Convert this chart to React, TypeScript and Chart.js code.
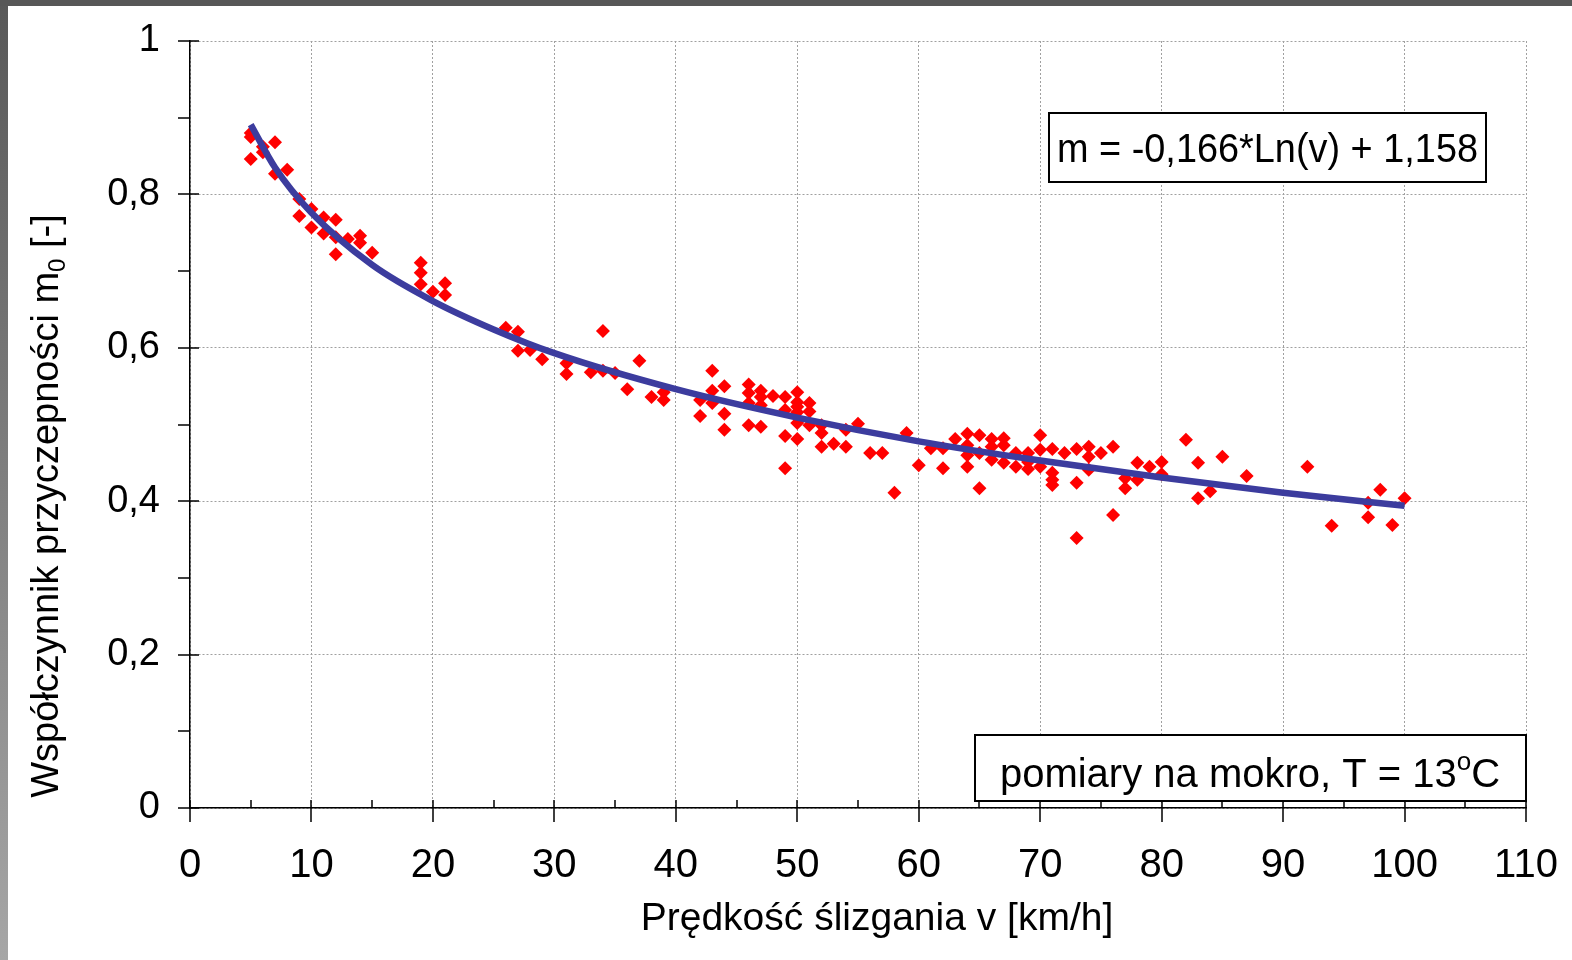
import React, { useEffect, useRef } from 'react';
import { Chart, registerables } from 'chart.js';

Chart.register(...registerables);

// Measured points: sliding speed v [km/h] and adhesion coefficient m0 [-]
const measuredSpeed = [
  5, 5, 5, 6, 6, 7, 7, 8, 9, 9, 10, 10, 11, 11, 12, 12, 12, 13, 14, 14, 15,
  19, 19, 19, 20, 21, 21, 26, 27, 27, 28, 29, 31, 31, 33, 34, 34, 35, 36, 37, 38, 39, 39,
  42, 42, 43, 43, 43, 44, 44, 44, 46, 46, 46, 46, 47, 47, 47, 47, 48,
  49, 49, 49, 49, 50, 50, 50, 50, 50, 50, 51, 51, 51, 52, 52, 52, 53, 54, 54, 55, 56,
  57, 58, 59, 60, 61, 62, 62, 63, 64, 64, 64, 64, 65, 65, 65, 66, 66, 66, 67, 67, 67,
  68, 68, 69, 69, 69, 70, 70, 70, 71, 71, 71, 71, 72, 73, 73, 73, 74, 74, 74, 75, 76, 76,
  77, 77, 78, 78, 79, 80, 80, 82, 83, 83, 84, 85, 87, 92, 94, 97, 97, 98, 99, 100,
];
const measuredFriction = [
  0.880, 0.875, 0.846, 0.862, 0.855, 0.868, 0.827, 0.832, 0.794, 0.772, 0.781, 0.757, 0.770, 0.749,
  0.767, 0.744, 0.722, 0.742, 0.746, 0.737, 0.724,
  0.711, 0.698, 0.683, 0.673, 0.684, 0.669, 0.626, 0.621, 0.596, 0.597, 0.585, 0.580, 0.566, 0.568,
  0.622, 0.570, 0.567, 0.546, 0.583, 0.536, 0.542, 0.532,
  0.532, 0.511, 0.570, 0.544, 0.528, 0.550, 0.514, 0.493, 0.552, 0.541, 0.528, 0.499, 0.544, 0.536,
  0.525, 0.497, 0.537,
  0.536, 0.519, 0.485, 0.443, 0.542, 0.529, 0.523, 0.516, 0.502, 0.481, 0.528, 0.517, 0.499, 0.499,
  0.489, 0.471, 0.475, 0.493, 0.471, 0.501, 0.463,
  0.463, 0.411, 0.489, 0.447, 0.469, 0.469, 0.443, 0.481, 0.488, 0.473, 0.460, 0.445, 0.486, 0.463,
  0.417, 0.481, 0.471, 0.454, 0.482, 0.473, 0.450,
  0.463, 0.445, 0.463, 0.451, 0.442, 0.486, 0.467, 0.445, 0.468, 0.437, 0.428, 0.421, 0.463, 0.468,
  0.424, 0.352, 0.471, 0.458, 0.441, 0.463, 0.471, 0.382,
  0.430, 0.417, 0.450, 0.428, 0.445, 0.451, 0.435, 0.480, 0.450, 0.404, 0.413, 0.458, 0.433, 0.445,
  0.368, 0.398, 0.379, 0.415, 0.369, 0.404,
];

// Logarithmic trend line
const trendSpeed = [5, 7, 10, 15, 20, 25, 30, 40, 50, 60, 70, 80, 90, 100];
const trendFriction = [0.891, 0.835, 0.776, 0.708, 0.661, 0.624, 0.593, 0.546, 0.509, 0.478, 0.453, 0.431, 0.411, 0.394];

const xMajorTicks = [0, 10, 20, 30, 40, 50, 60, 70, 80, 90, 100, 110];
const xMinorTicks = [5, 15, 25, 35, 45, 55, 65, 75, 85, 95, 105];
const yMajorTicks = [0, 0.2, 0.4, 0.6, 0.8, 1];
const yMinorTicks = [0.1, 0.3, 0.5, 0.7, 0.9];

const equationText = 'm = -0,166*Ln(v) + 1,158';
const conditionText = 'pomiary na mokro, T = 13';
const xTitle = 'Prędkość ślizgania v [km/h]';
const yTitleMain = 'Współczynnik przyczepności m';
const yTitleSub = '0';
const yTitleEnd = ' [-]';

const FONT = '"Liberation Sans", Arial, sans-serif';

const decorPlugin = {
  id: 'decor',
  beforeDraw(chart: any) {
    const { ctx, width, height } = chart;
    ctx.save();
    ctx.fillStyle = '#ffffff';
    ctx.fillRect(0, 0, width, height);
    const g = ctx.createLinearGradient(0, 0, 0, height);
    g.addColorStop(0, '#585858');
    g.addColorStop(1, '#a6a6a6');
    ctx.fillStyle = g;
    ctx.fillRect(0, 0, 8, height);
    ctx.fillStyle = '#575757';
    ctx.fillRect(0, 0, width, 6);
    ctx.restore();
  },
  afterDraw(chart: any) {
    const { ctx, chartArea } = chart;
    const xs = chart.scales.x;
    const ys = chart.scales.y;
    const left = chartArea.left;
    const bottom = chartArea.bottom;
    ctx.save();
    ctx.strokeStyle = '#000';
    ctx.lineWidth = 1.5;
    ctx.beginPath();
    xMajorTicks.forEach((v) => {
      const px = Math.round(xs.getPixelForValue(v));
      ctx.moveTo(px, bottom - 8);
      ctx.lineTo(px, bottom + 14);
    });
    xMinorTicks.forEach((v) => {
      const px = Math.round(xs.getPixelForValue(v));
      ctx.moveTo(px, bottom - 8);
      ctx.lineTo(px, bottom);
    });
    yMajorTicks.forEach((v) => {
      const py = Math.round(ys.getPixelForValue(v));
      ctx.moveTo(left - 12, py);
      ctx.lineTo(left + 9, py);
    });
    yMinorTicks.forEach((v) => {
      const py = Math.round(ys.getPixelForValue(v));
      ctx.moveTo(left - 12, py);
      ctx.lineTo(left, py);
    });
    ctx.stroke();

    // Equation box
    ctx.fillStyle = '#fff';
    ctx.lineWidth = 2;
    ctx.fillRect(1049, 113, 437, 69);
    ctx.strokeRect(1049, 113, 437, 69);
    ctx.fillStyle = '#000';
    ctx.font = `40px ${FONT}`;
    ctx.textBaseline = 'alphabetic';
    ctx.textAlign = 'left';
    const ew = ctx.measureText(equationText).width;
    ctx.save();
    ctx.translate(1057, 162);
    ctx.scale(421 / ew, 1);
    ctx.fillText(equationText, 0, 0);
    ctx.restore();

    // Condition box
    ctx.fillStyle = '#fff';
    ctx.fillRect(975, 735, 551, 66);
    ctx.strokeRect(975, 735, 551, 66);
    ctx.fillStyle = '#000';
    ctx.font = `40px ${FONT}`;
    const w1 = ctx.measureText(conditionText).width;
    ctx.font = `26px ${FONT}`;
    const wo = ctx.measureText('o').width;
    ctx.font = `40px ${FONT}`;
    const wc = ctx.measureText('C').width;
    const total = w1 + wo + wc;
    let sx = 1250 - total / 2;
    ctx.fillText(conditionText, sx, 787);
    sx += w1;
    ctx.font = `26px ${FONT}`;
    ctx.fillText('o', sx, 770);
    sx += wo;
    ctx.font = `40px ${FONT}`;
    ctx.fillText('C', sx, 787);

    // X title
    ctx.font = `39px ${FONT}`;
    ctx.textAlign = 'center';
    ctx.fillText(xTitle, 877, 930);

    // Y title (rotated, with subscript)
    ctx.translate(58, 506);
    ctx.rotate(-Math.PI / 2);
    ctx.textAlign = 'left';
    ctx.font = `38px ${FONT}`;
    const a = ctx.measureText(yTitleMain).width;
    const c = ctx.measureText(yTitleEnd).width;
    ctx.font = `24px ${FONT}`;
    const b = ctx.measureText(yTitleSub).width;
    let tx = -(a + b + c) / 2;
    ctx.font = `38px ${FONT}`;
    ctx.fillText(yTitleMain, tx, 0);
    tx += a;
    ctx.font = `24px ${FONT}`;
    ctx.fillText(yTitleSub, tx, 7);
    tx += b;
    ctx.font = `38px ${FONT}`;
    ctx.fillText(yTitleEnd, tx, 0);
    ctx.restore();
  },
};

export default function App() {
  const canvasRef = useRef<HTMLCanvasElement | null>(null);

  useEffect(() => {
    document.body.style.margin = '0';
    const canvas = canvasRef.current;
    if (!canvas) return;
    const points = measuredSpeed.map((v, i) => ({ x: v, y: measuredFriction[i] }));
    const trend = trendSpeed.map((v, i) => ({ x: v, y: trendFriction[i] }));
    const chart = new Chart(canvas, {
      type: 'scatter',
      data: {
        datasets: [
          {
            label: 'trend',
            data: trend,
            showLine: true,
            borderColor: '#3c3c9e',
            borderWidth: 6.5,
            pointRadius: 0,
            cubicInterpolationMode: 'monotone',
            fill: false,
            order: 0,
          } as any,
          {
            label: 'pomiary',
            data: points,
            pointStyle: 'rectRot',
            pointRadius: 7,
            backgroundColor: '#ff0000',
            borderColor: '#ff0000',
            borderWidth: 0,
            order: 1,
          },
        ],
      },
      options: {
        responsive: false,
        animation: false,
        devicePixelRatio: 1,
        layout: { autoPadding: false, padding: { top: 41, right: 46, left: 0, bottom: 0 } },
        plugins: { legend: { display: false }, tooltip: { enabled: false } },
        scales: {
          x: {
            type: 'linear',
            min: 0,
            max: 110,
            afterFit: (s: any) => {
              s.height = 152;
              s.paddingLeft = 0;
              s.paddingRight = 0;
              s.paddingTop = 0;
              s.paddingBottom = 0;
            },
            afterBuildTicks: (s: any) => { s.ticks = xMajorTicks.map((v) => ({ value: v })); },
            grid: { color: '#a0a0a0', lineWidth: 1, drawTicks: false },
            border: { display: true, color: '#000', width: 1.5, dash: [2, 2] },
            ticks: {
              padding: 34,
              color: '#000',
              font: { family: FONT, size: 40 },
              maxRotation: 0,
              callback: (v: any) => String(v),
            },
          },
          y: {
            type: 'linear',
            min: 0,
            max: 1,
            afterFit: (s: any) => {
              s.width = 190;
              s.paddingLeft = 0;
              s.paddingRight = 0;
              s.paddingTop = 0;
              s.paddingBottom = 0;
            },
            afterBuildTicks: (s: any) => { s.ticks = yMajorTicks.map((v) => ({ value: v })); },
            grid: { color: '#a0a0a0', lineWidth: 1, drawTicks: false },
            border: { display: true, color: '#000', width: 1.5, dash: [2, 2] },
            ticks: {
              padding: 30,
              color: '#000',
              font: { family: FONT, size: 38 },
              callback: (v: any) => (v === 0 ? '0' : v === 1 ? '1' : Number(v).toFixed(1).replace('.', ',')),
            },
          },
        },
      },
      plugins: [decorPlugin],
    } as any);
    return () => chart.destroy();
  }, []);

  return (
    <div style={{ position: 'absolute', left: 0, top: 0, width: 1572, height: 960 }}>
      <canvas ref={canvasRef} width={1572} height={960} style={{ display: 'block' }} />
    </div>
  );
}
